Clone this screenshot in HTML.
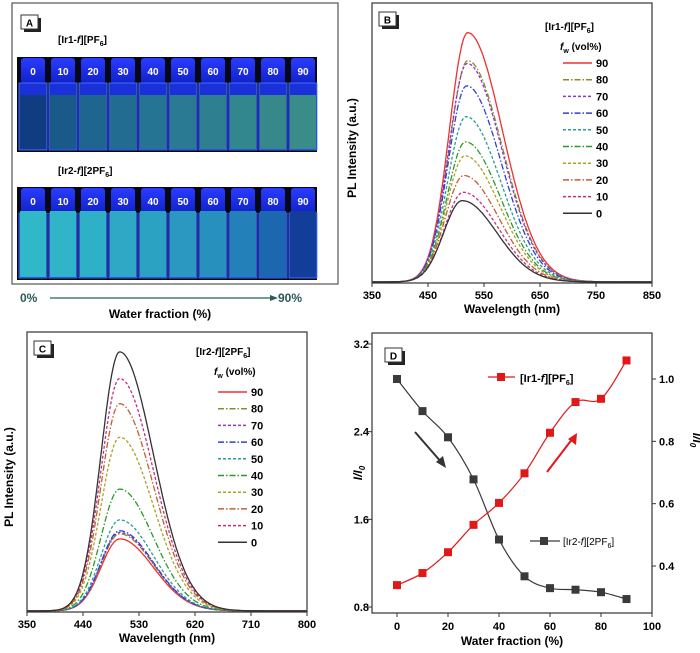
<!DOCTYPE html>
<html><head><meta charset="utf-8"><style>
body{margin:0;background:#fff;}
svg{display:block;font-family:"Liberation Sans",Arial,sans-serif;}
</style></head><body>
<svg id="fig" width="700" height="653" viewBox="0 0 700 653">
<defs>
<linearGradient id="cap" x1="0" y1="0" x2="0" y2="1"><stop offset="0" stop-color="#2a3cff"/><stop offset="1" stop-color="#1020c8"/></linearGradient>
</defs>
<g id="panelA">
<rect x="12" y="3" width="326" height="281" fill="#fff" stroke="#555" stroke-width="1.2"/>
<rect x="24" y="18" width="17" height="14" fill="#222"/><rect x="21" y="15" width="17" height="14" fill="#fff" stroke="#333"/>
<text x="29.5" y="26.5" font-size="10" font-weight="bold" text-anchor="middle">A</text>
<text x="58" y="43" font-size="10" font-weight="bold">[Ir1-<tspan font-style="italic">f</tspan>][PF<tspan font-size="7" dy="3">6</tspan><tspan dy="-3">]</tspan></text>
<text x="58" y="174" font-size="10" font-weight="bold">[Ir2-<tspan font-style="italic">f</tspan>][2PF<tspan font-size="7" dy="3">6</tspan><tspan dy="-3">]</tspan></text>
<g id="strip1"></g>
<g id="strip2"></g>
<text x="20" y="302" font-size="12" font-weight="bold" fill="#2a5a5a">0%</text>
<line x1="50" y1="298" x2="270" y2="298" stroke="#2a5a5a" stroke-width="1.2"/>
<polygon points="270,295 278,298 270,301" fill="#2a5a5a"/>
<text x="278" y="302" font-size="12" font-weight="bold" fill="#2a5a5a">90%</text>
<text x="160" y="318" font-size="12" font-weight="bold" text-anchor="middle">Water fraction (%)</text>
</g>
<g id="panelB"></g>
<g id="panelC"></g>
<g id="panelD"></g>
</svg>
<script>
const fwLevels=[90,80,70,60,50,40,30,20,10,0];
const peaksB=[0.89,0.79,0.78,0.70,0.59,0.50,0.45,0.38,0.32,0.29];
const centersB=[521,521,520,519,518,517,516,514,513,511];
const peaksC=[0.257,0.275,0.28,0.286,0.325,0.435,0.62,0.74,0.83,0.925];
const centersC=[499,499,499,499,499,499,499,499,499,499];
const ticksB=[350,450,550,650,750,850];
const ticksC=[350,440,530,620,710,800];
const waterX=[0,10,20,30,40,50,60,70,80,90];
const ir1Ratio=[1.0,1.11,1.30,1.55,1.75,2.02,2.39,2.67,2.70,3.05];
const ir2Ratio=[1.0,0.897,0.813,0.678,0.485,0.367,0.329,0.324,0.316,0.294];
const ticksDX=[0,20,40,60,80,100];
const ticksDL=[0.8,1.6,2.4,3.2];
const ticksDR=[0.4,0.6,0.8,1.0];
const vialLabels=['0','10','20','30','40','50','60','70','80','90'];

const NS='http://www.w3.org/2000/svg';
function mk(parent,tag,attrs,txt){const e=document.createElementNS(NS,tag);for(const k in attrs)e.setAttribute(k,attrs[k]);if(txt!==undefined)e.textContent=txt;parent.appendChild(e);return e;}
const colors=['#f03030','#8a8a30','#8a3ac0','#3040d0','#2a9a9a','#2a9a2a','#b0a020','#c06030','#c03080','#333'];
const dashes=['','6,2,1.5,2','3,2','6,2,1.5,2','3,2','6,2,1.5,2','3,2','6,2,1.5,2','3,2',''];

function strip(id,y0,h,liqTop,liqColors){
  const g=document.getElementById(id);
  mk(g,'rect',{x:17,y:y0,width:300,height:h,fill:'#060818'});
  for(let i=0;i<10;i++){
    const x=18+i*30;
    const v=mk(g,'g',{});
    
    
    mk(v,'rect',{x:x+3,y:y0+1,width:24,height:26,rx:3,fill:'url(#cap)'});
    mk(v,'rect',{x:x+1,y:y0+26,width:28,height:h-28,fill:'#1a30d8',stroke:'#4a80ff','stroke-width':0.8});
    mk(v,'rect',{x:x+2,y:y0+liqTop,width:26,height:h-liqTop-3,fill:liqColors[i]});
    mk(v,'text',{x:x+15,y:y0+18,'font-size':10,'font-weight':'bold',fill:'#fff','text-anchor':'middle'},vialLabels[i]);
  }
}
strip('strip1',57,95,38,['#103c80','#1a5a88','#1e6690','#226c92','#267494','#2a7a94','#2e8090','#32868e','#36888a','#3a8c88']);
strip('strip2',187,93,24,['#30b8c8','#30b4c8','#2eb0c6','#2ea8c4','#2ca2c2','#2a98c0','#2890bc','#2480b8','#1c68b0','#123e9a']);

function spectrum(gid,name,box,xmin,xmax,ticks,peaks,centers,sl,sr,legTitle,legBox){
  const g=document.getElementById(gid);
  const {x0,x1,y0,y1}=box;
  const sx=v=>x0+(v-xmin)/(xmax-xmin)*(x1-x0);
  const sy=v=>y1-v*(y1-y0);
  mk(g,'rect',{x:x0,y:y0,width:x1-x0,height:y1-y0,fill:'none',stroke:'#333','stroke-width':1.2});
  ticks.forEach(t=>{
    mk(g,'line',{x1:sx(t),x2:sx(t),y1:y1,y2:y1+4,stroke:'#333'});
    const tl=mk(g,'text',{x:sx(t),y:y1+16,'font-size':11,'font-weight':'bold','text-anchor':'middle'},t);
    
    
  });
  for(let i=0;i<peaks.length;i++){
    let d='';
    for(let w=xmin;w<=xmax;w+=2){
      const s=w<centers[i]?sl:sr;
      let v=peaks[i]*Math.exp(-Math.pow(w-centers[i],2)/(2*s*s))+0.004;
      d+=(d?'L':'M')+sx(w).toFixed(1)+','+sy(v).toFixed(1);
    }
    const p=mk(g,'path',{d:d,fill:'none',stroke:colors[i],'stroke-width':1.3,'stroke-dasharray':dashes[i]});
    
    
  }
  const lg=mk(g,'g',{});
  
  
  const t=mk(lg,'text',{x:legBox.hx,y:legBox.hy,'font-size':10,'font-weight':'bold'});
  t.innerHTML=legTitle;
  const f=mk(lg,'text',{x:legBox.fx,y:legBox.hy+20,'font-size':10,'font-weight':'bold'});
  f.innerHTML='<tspan font-style="italic">f</tspan><tspan font-size="7" dy="3">w</tspan><tspan dy="-3"> (vol%)</tspan>';
  for(let i=0;i<fwLevels.length;i++){
    const y=legBox.ey+i*16.7;
    const e=mk(lg,'g',{});
    
    
    mk(e,'line',{x1:legBox.lx,x2:legBox.lx+29,y1:y,y2:y,stroke:colors[i],'stroke-width':1.5,'stroke-dasharray':dashes[i]});
    mk(e,'text',{x:legBox.lx+33,y:y+4,'font-size':11,'font-weight':'bold'},fwLevels[i]);
  }
  mk(g,'text',{x:(x0+x1)/2,y:y1+30,'font-size':12,'font-weight':'bold','text-anchor':'middle'},'Wavelength (nm)');
  const yl=mk(g,'text',{x:0,y:0,'font-size':12,'font-weight':'bold','text-anchor':'middle',transform:`translate(${legBox.ylx},${(y0+y1)/2+5}) rotate(-90)`},'PL Intensity (a.u.)');
  
  
  mk(g,'rect',{x:x0+10,y:y0+12,width:17,height:14,fill:'#222'});
  mk(g,'rect',{x:x0+7,y:y0+9,width:17,height:14,fill:'#fff',stroke:'#333'});
  mk(g,'text',{x:x0+15.5,y:y0+20.5,'font-size':10,'font-weight':'bold','text-anchor':'middle'},name);
}
spectrum('panelB','B',{x0:372,x1:652,y0:3,y1:283},350,850,ticksB,peaksB,centersB,33,62,
 '[Ir1-<tspan font-style="italic">f</tspan>][PF<tspan font-size="7" dy="3">6</tspan><tspan dy="-3">]</tspan>',
 {hx:545,hy:30,fx:560,ey:63,lx:563,ylx:356});
spectrum('panelC','C',{x0:27,x1:307,y0:332,y1:612},350,800,ticksC,peaksC,centersC,30,54,
 '[Ir2-<tspan font-style="italic">f</tspan>][2PF<tspan font-size="7" dy="3">6</tspan><tspan dy="-3">]</tspan>',
 {hx:196,hy:355,fx:214,ey:392,lx:218,ylx:13});

(function(){
  const g=document.getElementById('panelD');
  const x0=372,x1=652,y0=333,y1=613;
  const sx=v=>397+v*2.55;
  const syL=v=>344+(3.2-v)*109.6;
  const syR=v=>379+(1.0-v)*311.7;
  mk(g,'rect',{x:x0,y:y0,width:x1-x0,height:y1-y0,fill:'none',stroke:'#333','stroke-width':1.2});
  ticksDX.forEach(t=>{mk(g,'line',{x1:sx(t),x2:sx(t),y1:y1,y2:y1+4,stroke:'#333'});
    const l=mk(g,'text',{x:sx(t),y:y1+17,'font-size':11,'font-weight':'bold','text-anchor':'middle'},t);
    
    });
  ticksDL.forEach(t=>{mk(g,'line',{x1:x0,x2:x0-4,y1:syL(t),y2:syL(t),stroke:'#333'});
    mk(g,'text',{x:x0-3,y:syL(t)+4,'font-size':11,'font-weight':'bold','text-anchor':'end'},t.toFixed(1));});
  ticksDR.forEach(t=>{mk(g,'line',{x1:x1,x2:x1+4,y1:syR(t),y2:syR(t),stroke:'#333'});
    mk(g,'text',{x:x1+7,y:syR(t)+4,'font-size':11,'font-weight':'bold'},t.toFixed(1));});
  function spline(pts){let d='M'+pts[0][0]+','+pts[0][1];
    for(let i=0;i<pts.length-1;i++){const p0=pts[Math.max(0,i-1)],p1=pts[i],p2=pts[i+1],p3=pts[Math.min(pts.length-1,i+2)];
      d+=`C${p1[0]+(p2[0]-p0[0])/6},${p1[1]+(p2[1]-p0[1])/6} ${p2[0]-(p3[0]-p1[0])/6},${p2[1]-(p3[1]-p1[1])/6} ${p2[0]},${p2[1]}`;}
    return d;}
  function series(vals,sy,col,name){
    const s=mk(g,'g',{});
    
    
    const pts=waterX.map((x,i)=>[sx(x),sy(vals[i])]);
    mk(s,'path',{d:spline(pts),fill:'none',stroke:col,'stroke-width':1.2});
    pts.forEach(p=>{const r=mk(s,'rect',{x:p[0]-4,y:p[1]-4,width:8,height:8,fill:col});
      
      });
  }
  series(ir2Ratio,syR,'#3a3a3a','ir2-series');
  series(ir1Ratio,syL,'#e01818','ir1-series');
  mk(g,'line',{x1:415,y1:432,x2:442,y2:463,stroke:'#333','stroke-width':2});
  mk(g,'polygon',{points:'446,468 436,462 443,456',fill:'#333'});
  mk(g,'line',{x1:547,y1:472,x2:573,y2:438,stroke:'#e01818','stroke-width':2});
  mk(g,'polygon',{points:'577,433 576,445 568,439',fill:'#e01818'});
  mk(g,'line',{x1:488,x2:515,y1:377,y2:377,stroke:'#e01818','stroke-width':1.2});
  mk(g,'rect',{x:497,y:373,width:8,height:8,fill:'#e01818'});
  const l1=mk(g,'text',{x:520,y:382,'font-size':11,'font-weight':'bold'});
  l1.innerHTML='[Ir1-<tspan font-style="italic">f</tspan>][PF<tspan font-size="7" dy="3">6</tspan><tspan dy="-3">]</tspan>';
  mk(g,'line',{x1:530,x2:560,y1:541,y2:541,stroke:'#3a3a3a','stroke-width':1.2});
  mk(g,'rect',{x:540,y:537,width:8,height:8,fill:'#3a3a3a'});
  const l2=mk(g,'text',{x:563,y:545,'font-size':10});
  l2.innerHTML='[Ir2-<tspan font-style="italic">f</tspan>][2PF<tspan font-size="7" dy="3">6</tspan><tspan dy="-3">]</tspan>';
  mk(g,'text',{x:(x0+x1)/2,y:y1+32,'font-size':12,'font-weight':'bold','text-anchor':'middle'},'Water fraction (%)');
  const lt=mk(g,'text',{x:0,y:0,'font-size':12,'font-weight':'bold','font-style':'italic','text-anchor':'middle',transform:'translate(362,473) rotate(-90)'});
  lt.innerHTML='I/I<tspan font-size="8" dy="3">0</tspan>';
  const rt=mk(g,'text',{x:0,y:0,'font-size':12,'font-weight':'bold','font-style':'italic','text-anchor':'middle',transform:'translate(693,440) rotate(90)'});
  rt.innerHTML='I/I<tspan font-size="8" dy="3">0</tspan>';
  mk(g,'rect',{x:388,y:351,width:17,height:14,fill:'#222'});
  mk(g,'rect',{x:385,y:348,width:17,height:14,fill:'#fff',stroke:'#333'});
  mk(g,'text',{x:393.5,y:359.5,'font-size':10,'font-weight':'bold','text-anchor':'middle'},'D');
})();
</script>
</body></html>
